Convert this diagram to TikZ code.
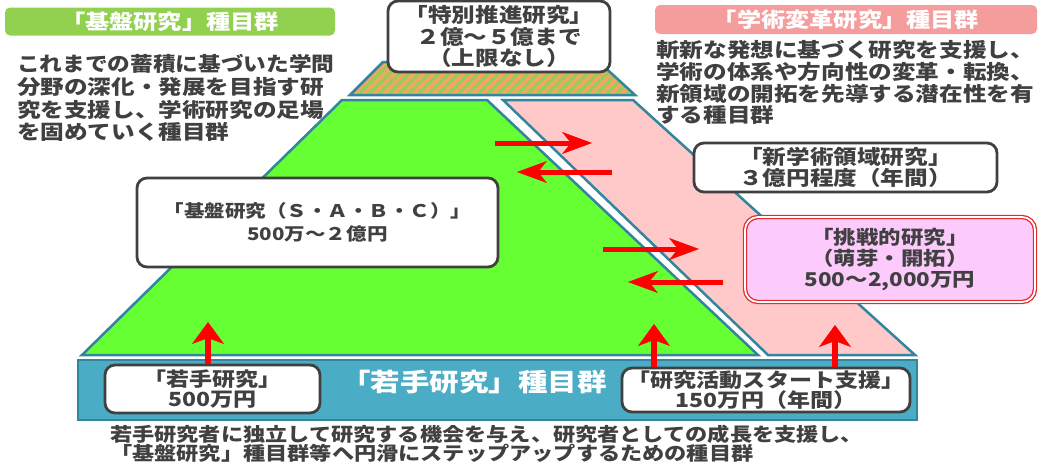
\documentclass[tikz,border=0pt]{standalone}
\usepackage{fontspec}
\usepackage{graphicx}
\setmainfont{Noto Sans CJK JP}[FakeStretch=1.18]
\usetikzlibrary{arrows.meta,patterns.meta}
\definecolor{hdrgreen}{HTML}{92D050}
\definecolor{hdrpink}{HTML}{F59D9D}
\definecolor{txtgray}{HTML}{404040}
\definecolor{edgeteal}{HTML}{31859C}
\definecolor{gfill}{HTML}{66FF33}
\definecolor{pfill}{HTML}{FFC9C9}
\definecolor{bandfill}{HTML}{4BACC6}
\definecolor{stripeor}{HTML}{F4A46A}
\definecolor{magfill}{HTML}{FCCBFC}
\definecolor{redline}{HTML}{E52A2A}
\newcommand\myfs[2]{\fontsize{#1}{#2}\selectfont}
\begin{document}
\begin{tikzpicture}[x=1pt,y=-1pt,
  tier/.style={draw=edgeteal, line width=2.5pt, line join=miter},
  infobox/.style={draw=txtgray, line width=2.8pt, rounded corners=10pt, fill=white,
    text=txtgray, align=center, inner sep=0pt, font=\bfseries\myfs{19.5}{19.5}},
  hdr/.style={rounded corners=5pt, text=white, inner sep=0pt, font=\bfseries\myfs{20.5}{22}},
  desc/.style={anchor=west, inner sep=0pt, text=txtgray, font=\bfseries\myfs{20}{22}},
  bdesc/.style={anchor=west, inner sep=0pt, text=txtgray, font=\bfseries\myfs{18.8}{20}},
  harrow/.style={draw=red, line width=5pt, -{Stealth[length=30pt,width=22pt,inset=9pt,line width=0.5pt]}},
  varrow/.style={draw=red, line width=6.5pt, -{Stealth[length=22pt,width=32pt,inset=6pt,line width=0.5pt]}}
]
\useasboundingbox (0,0) rectangle (1039,463);
\fill[white] (0,0) rectangle (1039,463);

% pyramid tiers
\fill[stripeor] (350,95) -- (383,62) -- (599,62) -- (635,95) -- cycle;
\fill[pattern={Lines[angle=45,distance=7pt,line width=3pt]}, pattern color=hdrgreen]
  (350,95) -- (383,62) -- (599,62) -- (635,95) -- cycle;
\draw[tier] (350,95) -- (383,62) -- (599,62) -- (635,95) -- cycle;
\filldraw[tier, fill=gfill] (342,100) -- (487,100) -- (758,355) -- (82,355) -- cycle;
\filldraw[tier, fill=pfill] (503,100) -- (633,100) -- (915,355) -- (768,355) -- cycle;
\filldraw[draw=edgeteal, line width=2pt, fill=bandfill] (78,360) rectangle (917,420);

% headers
\node[hdr, fill=hdrgreen, minimum width=330pt, minimum height=28pt] (hkiban) at (170,21.5) {「基盤研究」種目群};
\node[hdr, fill=hdrpink, minimum width=382pt, minimum height=29pt] (hgakujutsu) at (846,19.5) {「学術変革研究」種目群};

% descriptions
\node[desc] (l1) at (17,64) {\scalebox{0.96}[1]{これまでの蓄積に基づいた学問}};
\node[desc] (l2) at (17,87) {分野の深化・発展を目指す研};
\node[desc] (l3) at (17,110) {究を支援し、学術研究の足場};
\node[desc] (l4) at (17,132) {を固めていく種目群};
\node[desc] (r1) at (656,50) {斬新な発想に基づく研究を支援し、};
\node[desc] (r2) at (656,72) {学術の体系や方向性の変革・転換、};
\node[desc] (r3) at (656,94) {新領域の開拓を先導する潜在性を有};
\node[desc] (r4) at (656,115) {する種目群};
\node[bdesc] (b1) at (110,434) {若手研究者に独立して研究する機会を与え、研究者としての成長を支援し、};
\node[bdesc] (b2) at (110,453) {「基盤研究」種目群等へ円滑にステップアップするための種目群};

% band label
\node[text=white, inner sep=0pt, font=\bfseries\myfs{25}{27}] (bandlbl) at (474,382) {「若手研究」種目群};

% boxes
\node[infobox, minimum width=222pt, minimum height=71pt, font=\bfseries\myfs{20}{21.5}] (tokusui) at (499,36.5)
  {「特別推進研究」\\２億〜５億まで\\（上限なし）};
\node[infobox, minimum width=361pt, minimum height=89pt, font=\bfseries\myfs{17.4}{23}] (kiban) at (317.5,222.5)
  {「基盤研究（Ｓ・Ａ・Ｂ・Ｃ）」\\500万〜２億円};
\node[infobox, minimum width=303pt, minimum height=49pt, font=\bfseries\myfs{20}{21}] (shingaku) at (845.5,167.5)
  {「新学術領域研究」\\３億円程度（年間）};
\node[infobox, draw=redline, double=white, double distance=1.8pt, line width=1.3pt, fill=magfill,
  rounded corners=13pt, minimum width=290pt, minimum height=85pt, font=\bfseries\myfs{19}{21}] (chosen) at (890,259.5)
  {「挑戦的研究」\\（萌芽・開拓）\\500〜2,000万円};
\node[infobox, minimum width=215pt, minimum height=48pt] (wakate) at (212.5,389)
  {「若手研究」\\500万円};
\node[infobox, minimum width=288pt, minimum height=44pt] (start) at (766,390)
  {「研究活動スタート支援」\\150万円（年間）};

% arrows
\coordinate (a1s) at (495,143); \coordinate (a1e) at (592,143);
\coordinate (a2s) at (612,172); \coordinate (a2e) at (517,172);
\coordinate (a3s) at (603,249); \coordinate (a3e) at (699,249);
\coordinate (a4s) at (723,282); \coordinate (a4e) at (628,282);
\coordinate (u1e) at (208,322);
\coordinate (u2e) at (654,324);
\coordinate (u3e) at (835,325);
\draw[harrow] (a1s) -- (a1e);
\draw[harrow] (a2s) -- (a2e);
\draw[harrow] (a3s) -- (a3e);
\draw[harrow] (a4s) -- (a4e);
\draw[varrow] (wakate.north -| u1e) -- (u1e);
\draw[varrow] (start.north -| u2e) -- (u2e);
\draw[varrow] (start.north -| u3e) -- (u3e);
\end{tikzpicture}
\end{document}
